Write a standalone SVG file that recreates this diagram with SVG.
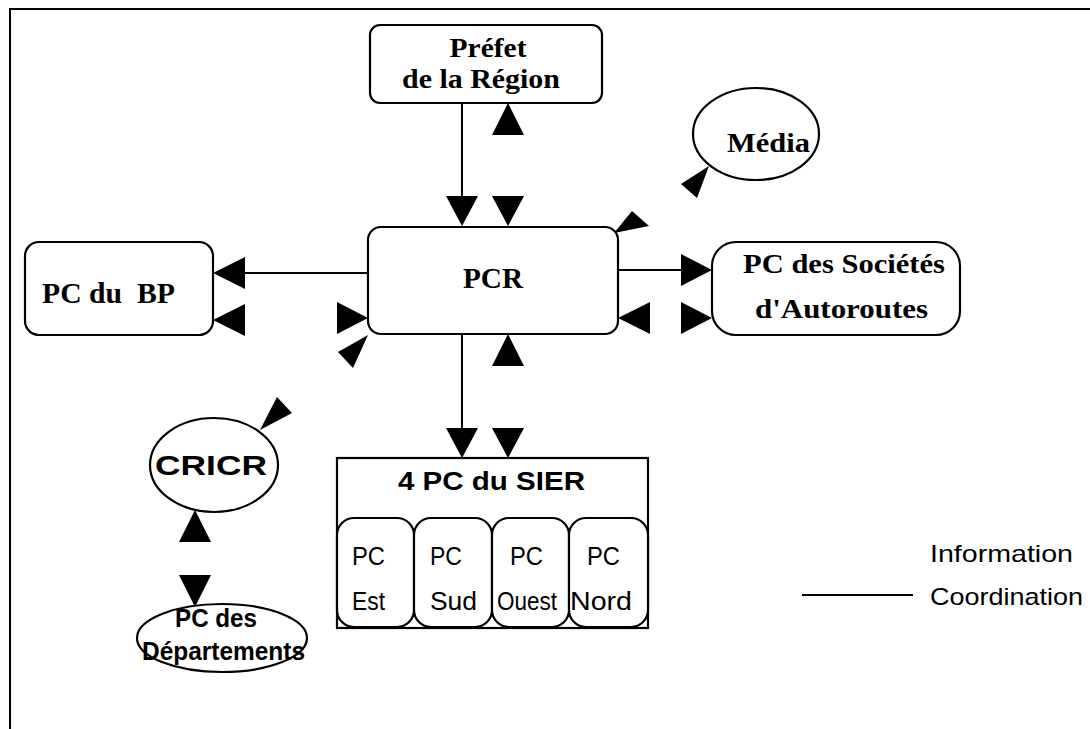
<svg xmlns="http://www.w3.org/2000/svg" width="1090" height="729" viewBox="0 0 1090 729">
<style>
.box{fill:#fff;stroke:#000;stroke-width:2.2}
.ln{stroke:#000;stroke-width:2;fill:none}
.ah{fill:#000;stroke:none}
.tb{font-family:"Liberation Serif",serif;font-weight:bold;fill:#000}
.ts{font-family:"Liberation Sans",sans-serif;font-weight:bold;fill:#000}
.tr{font-family:"Liberation Sans",sans-serif;fill:#000}
</style>
<rect width="1090" height="729" fill="#fff"/>
<g id="frame"><path class="ln" d="M10,729 V9 H1090" stroke-width="2.5"/></g>

<g id="connectors">
  <line class="ln" x1="462" y1="103" x2="462" y2="200"/>
  <line class="ln" x1="462" y1="334" x2="462" y2="432"/>
  <line class="ln" x1="368" y1="273" x2="240" y2="273"/>
  <line class="ln" x1="618" y1="270" x2="684" y2="270"/>
  <line class="ln" x1="802" y1="595" x2="913" y2="595"/>
  <!-- vertical arrowheads -->
  <polygon class="ah" points="446,196 478,196 462,226"/>
  <polygon class="ah" points="492,196 524,196 508,226"/>
  <polygon class="ah" points="492,135 524,135 508,103"/>
  <polygon class="ah" points="446,428 478,428 462,458"/>
  <polygon class="ah" points="492,428 524,428 508,458"/>
  <polygon class="ah" points="492,366 524,366 508,334"/>
  <polygon class="ah" points="179,542 211,542 195,510"/>
  <polygon class="ah" points="179,575 211,575 195,607"/>
  <!-- horizontal arrowheads -->
  <polygon class="ah" points="245,257 245,289 213,273"/>
  <polygon class="ah" points="245,304 245,336 213,320"/>
  <polygon class="ah" points="337,302 337,334 368,318"/>
  <polygon class="ah" points="681,254 681,286 712,270"/>
  <polygon class="ah" points="650,302 650,334 618,318"/>
  <polygon class="ah" points="681,302 681,334 712,318"/>
  <!-- diagonal arrowheads -->
  <polygon class="ah" points="614,233 632,211 649,226"/>
  <polygon class="ah" points="681,184 709,166 697,198"/>
  <polygon class="ah" points="368,335 338,352 353,368"/>
  <polygon class="ah" points="260,430 277,397 292,413"/>
</g>

<g id="prefet">
  <rect class="box" x="370" y="25" width="232" height="78" rx="10"/>
  <text class="tb" x="488" y="57" font-size="27" text-anchor="middle" textLength="77" lengthAdjust="spacingAndGlyphs">Préfet</text>
  <text class="tb" x="481" y="88" font-size="27" text-anchor="middle" textLength="158" lengthAdjust="spacingAndGlyphs">de la Région</text>
</g>

<g id="pcr">
  <rect class="box" x="368" y="227" width="250" height="107" rx="13"/>
  <text class="tb" x="493" y="288" font-size="29" text-anchor="middle" textLength="60" lengthAdjust="spacingAndGlyphs">PCR</text>
</g>

<g id="pcbp">
  <rect class="box" x="25" y="242" width="188" height="93" rx="14"/>
  <text class="tb" x="42" y="303" font-size="29" style="white-space:pre" textLength="133" lengthAdjust="spacingAndGlyphs">PC du  BP</text>
</g>

<g id="societes">
  <rect class="box" x="712" y="242" width="248" height="93" rx="24"/>
  <text class="tb" x="743" y="273" font-size="28" textLength="202" lengthAdjust="spacingAndGlyphs">PC des Sociétés</text>
  <text class="tb" x="755" y="318" font-size="28" textLength="173" lengthAdjust="spacingAndGlyphs">d'Autoroutes</text>
</g>

<g id="media">
  <ellipse class="box" cx="756" cy="134" rx="63" ry="46"/>
  <text class="tb" x="727" y="152" font-size="28" textLength="83" lengthAdjust="spacingAndGlyphs">Média</text>
</g>

<g id="cricr">
  <ellipse class="box" cx="214" cy="465" rx="64" ry="47"/>
  <text class="ts" x="155" y="475" font-size="28" textLength="112" lengthAdjust="spacingAndGlyphs">CRICR</text>
</g>

<g id="departements">
  <ellipse class="box" cx="222" cy="638" rx="85" ry="34"/>
  <text class="ts" x="175" y="627" font-size="25" textLength="82" lengthAdjust="spacingAndGlyphs">PC des</text>
  <text class="ts" x="142" y="660" font-size="25" textLength="163" lengthAdjust="spacingAndGlyphs">Départements</text>
</g>

<g id="sier">
  <rect class="box" x="337" y="458" width="311" height="170" rx="0"/>
  <text class="ts" x="398" y="490" font-size="25" textLength="187" lengthAdjust="spacingAndGlyphs">4 PC du SIER</text>
  <g id="pc-est">
    <rect class="box" x="337" y="518" width="77" height="109" rx="17"/>
    <text class="tr" x="352" y="565" font-size="25" textLength="33" lengthAdjust="spacingAndGlyphs">PC</text>
    <text class="tr" x="352" y="610" font-size="25" textLength="33" lengthAdjust="spacingAndGlyphs">Est</text>
  </g>
  <g id="pc-sud">
    <rect class="box" x="414" y="518" width="78" height="109" rx="17"/>
    <text class="tr" x="430" y="565" font-size="25" textLength="32" lengthAdjust="spacingAndGlyphs">PC</text>
    <text class="tr" x="430" y="610" font-size="25" textLength="47" lengthAdjust="spacingAndGlyphs">Sud</text>
  </g>
  <g id="pc-ouest">
    <rect class="box" x="492" y="518" width="77" height="109" rx="17"/>
    <text class="tr" x="510" y="565" font-size="25" textLength="33" lengthAdjust="spacingAndGlyphs">PC</text>
    <text class="tr" x="497" y="610" font-size="25" textLength="60" lengthAdjust="spacingAndGlyphs">Ouest</text>
  </g>
  <g id="pc-nord">
    <rect class="box" x="569" y="518" width="79" height="109" rx="17"/>
    <text class="tr" x="587" y="565" font-size="25" textLength="33" lengthAdjust="spacingAndGlyphs">PC</text>
    <text class="tr" x="570" y="610" font-size="25" textLength="62" lengthAdjust="spacingAndGlyphs">Nord</text>
  </g>
</g>

<g id="legend">
  <text class="tr" x="930" y="562" font-size="24" textLength="143" lengthAdjust="spacingAndGlyphs">Information</text>
  <text class="tr" x="930" y="605" font-size="24" textLength="153" lengthAdjust="spacingAndGlyphs">Coordination</text>
</g>
</svg>
